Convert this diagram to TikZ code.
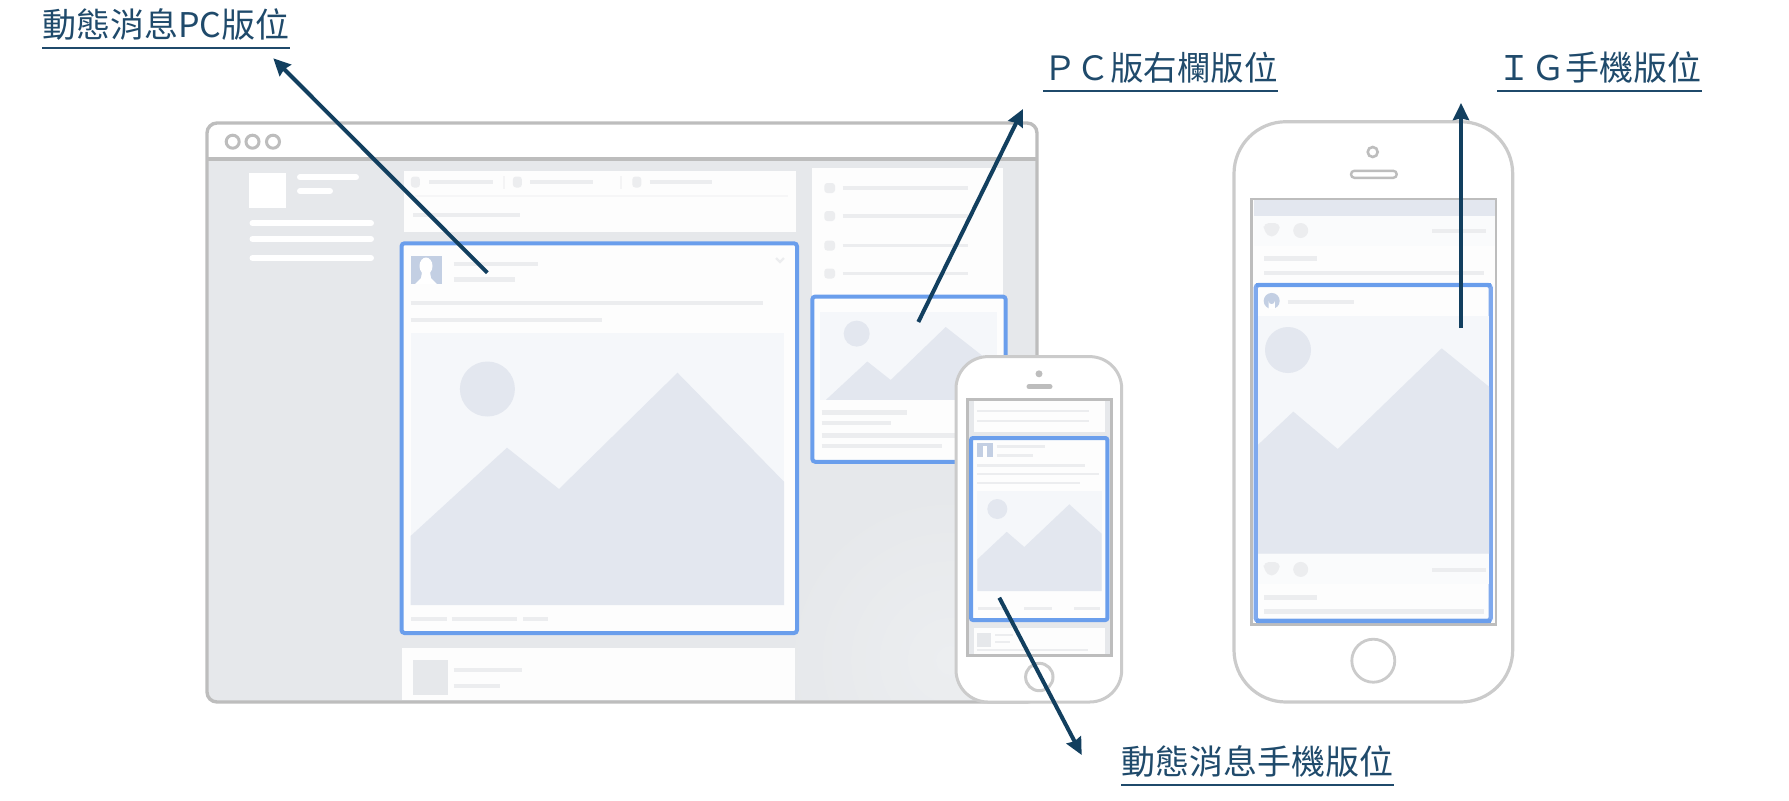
\documentclass[tikz,border=0pt]{standalone}
\usepackage{fontspec}
\usepackage{tikz}
\usetikzlibrary{arrows.meta}
\setmainfont{Noto Sans CJK TC}

\definecolor{framegray}{HTML}{BDBDBD}
\definecolor{phonegray}{HTML}{CBCBCB}
\definecolor{panelgray}{HTML}{E6E8EB}
\definecolor{panellight}{HTML}{ECEEF0}
\definecolor{cardwhite}{HTML}{FDFDFD}
\definecolor{linegray}{HTML}{ECEDEF}
\definecolor{skygray}{HTML}{F5F7FA}
\definecolor{mountgray}{HTML}{E3E7EF}
\definecolor{avatarblue}{HTML}{C3CFE3}
\definecolor{boxblue}{HTML}{6A9EEC}
\definecolor{sideblue}{HTML}{7FA9EE}
\definecolor{arrownavy}{HTML}{123F5F}
\definecolor{labelnavy}{HTML}{1F4A6B}

\tikzset{
  pill/.style={draw=linegray, line width=2.2pt},
  whitepill/.style={draw=white, line width=3pt, line cap=round},
  slotbox/.style={draw=boxblue, line width=2pt, fill=cardwhite, rounded corners=1.5pt},
  adlabel/.style={text=labelnavy, font=\fontsize{17pt}{17pt}\selectfont, inner xsep=0pt, inner ysep=0pt, text depth=5.2pt, anchor=south west},
  underlined/.style={draw=labelnavy, line width=1pt},
  pointer/.style={draw=arrownavy, line width=2pt, -{Stealth[length=8.5pt,width=8pt,inset=0.8pt]}},
}

\begin{document}
\begin{tikzpicture}
\begin{scope}[x=0.5pt,y=-0.5pt]
\useasboundingbox (0,0) rectangle (1789,800);

% browser window
\fill[panelgray,rounded corners=5pt] (207,123) rectangle (1037,702);
\begin{scope}
\clip (207,159) rectangle (1037,702);
\shade[inner color=panellight,outer color=panelgray] (950,660) ellipse (170 and 170);
\end{scope}
\fill[white] (207,159) [rounded corners=5pt] -- (207,123) -- (1037,123) [sharp corners] -- (1037,159) -- cycle;
\foreach \x in {232.7,252.5,273}
\draw[framegray,line width=1.5pt] (\x,141.7) circle (6.5);

% left column
\fill[white] (249.3,172.7) rectangle (285.7,207.7);
\foreach \xa\xb\y in {300/356/177.3,300/330/191,252.5/371/223.3,252.5/371/239,252.5/371/258}
\draw[whitepill] (\xa,\y) -- (\xb,\y);

% composer card
\fill[cardwhite] (403.5,170.7) rectangle (796,231.7);
\foreach \x in {415.4,517.4,636.8}
\fill[linegray,rounded corners=1.5pt] (\x-4.5,176.5) rectangle (\x+4.5,187.5);
\foreach \x in {504,621}
\draw[linegray!60,line width=0.6pt] (\x,176) -- (\x,189);
\draw[linegray!50,line width=0.8pt] (415,195.7) -- (788,195.7);
\foreach \xa\xb\y in {429/492.5/182,530/593/182,649.5/712/182,413.4/520/215}
\draw[pill] (\xa,\y) -- (\xb,\y);

% feed post
\draw[slotbox] (401.5,243.3) rectangle (797,633);
\fill[avatarblue] (410.6,255.7) rectangle (441.5,284);
\fill[white] (426,266) ellipse (6.5 and 8.5);
\fill[white] (422,272) -- (430,272) -- (431,278) -- (437,284) -- (415,284) -- (421,278) -- cycle;
\foreach \xa\xb\y in {453.7/538/264,453.7/515/279.3,410.6/763/302.7,410.6/602/320,411.4/447/619,451.8/517/619,523/547.8/619}
\draw[pill] (\xa,\y) -- (\xb,\y);
\draw[linegray,line width=1.2pt] (776,258) -- (780,262) -- (784,258);
\fill[skygray] (410.6,332.7) rectangle (784,605);
\fill[mountgray] (487.4,389) circle (27.5);
\fill[mountgray] (410.6,536) -- (507,447.7) -- (559,489) -- (677.5,372.7) -- (784,481.7) -- (784,605) -- (410.6,605) -- cycle;

% next card
\fill[cardwhite] (401.5,648) rectangle (795,700);
\fill[panelgray] (412.6,660) rectangle (448,695);
\foreach \xa\xb\y in {453.7/522/670,453.7/499.6/685.7}
\draw[pill] (\xa,\y) -- (\xb,\y);

% right column
\fill[cardwhite] (811.7,168) rectangle (1002.7,296);
\foreach \y in {188,216,245.6,273.5}
{
\fill[linegray,rounded corners=1.5pt] (824.3,\y-5) rectangle (835,\y+5);
\draw[pill,line width=1.8pt] (842.7,\y) -- (967.7,\y);
}
\draw[slotbox] (812.3,296.5) rectangle (1005.7,461.8);
\fill[skygray] (820,311.8) rectangle (996.7,399.8);
\fill[mountgray] (856.7,333.6) circle (13);
\fill[mountgray] (826,399.8) -- (867.3,361.5) -- (890.7,380) -- (945.7,327) -- (996.7,367) -- (996.7,399.8) -- cycle;
\foreach \xa\xb\y in {821.7/906.7/412.4,821.7/891/423,821.7/965/435.4,821.7/941.7/445.7}
\draw[pill] (\xa,\y) -- (\xb,\y);

\draw[framegray,line width=1.7pt,rounded corners=5pt] (207,123) rectangle (1037,702);
\draw[framegray,line width=2pt] (207,159) -- (1037,159);

% small phone
\draw[phonegray,line width=1.5pt,fill=white,rounded corners=16pt] (956,356.6) rectangle (1121.7,702);
\fill[framegray] (1039,373.8) circle (3.5);
\draw[framegray,line width=2.5pt,line cap=round] (1029,386.8) -- (1050,386.8);
\draw[framegray,line width=1.5pt,fill=panelgray] (967,399.8) rectangle (1111.7,655.4);
\fill[cardwhite] (974,401) rectangle (1105,432);
\foreach \y in {411,421}
\draw[pill,line width=1.2pt] (977.3,\y) -- (1089,\y);
\fill[cardwhite] (974,627.5) rectangle (1105,654);
\fill[panelgray] (977,633) rectangle (991,646.6);
\foreach \xa\xb\y in {995/1013/635,995/1010/641.7,977/1088/649.7}
\draw[pill,line width=1pt] (\xa,\y) -- (\xb,\y);
\draw[slotbox,rounded corners=1pt] (971,438) rectangle (1107.3,620);
\fill[avatarblue] (976.7,443) rectangle (993.3,457);
\fill[white] (983,446) rectangle (987,457);
\foreach \xa\xb\y in {996.7/1045/446.5,996.7/1033/455.3,977.3/1085/465.6,977.3/1099/474,977.3/1080/483,978/1005/608.4,1024/1052/608.4,1074/1100/608.4}
\draw[pill,line width=1.2pt] (\xa,\y) -- (\xb,\y);
\fill[skygray] (977,491) rectangle (1101.7,591);
\fill[mountgray] (997.3,509) circle (10);
\fill[mountgray] (977.3,559.4) -- (1006.7,531.8) -- (1024.3,547) -- (1069.3,504.3) -- (1101.7,533.7) -- (1101.7,591) -- (977.3,591) -- cycle;
\draw[phonegray,line width=1.5pt] (1039.3,677) circle (13.7);

% big phone
\draw[phonegray,line width=1.6pt,fill=white,rounded corners=26pt] (1234,121.7) rectangle (1512.7,702);
\draw[framegray,line width=1.3pt] (1372.7,152) circle (5);
\draw[framegray,line width=1.2pt,fill=white,rounded corners=1.7pt] (1351,170.8) rectangle (1396.7,177.8);
\draw[framegray,line width=1.3pt,fill=cardwhite] (1251.7,198.9) rectangle (1496,624.7);
\fill[mountgray] (1254,200) rectangle (1495,215.5);
\fill[cardwhite!60!skygray] (1254,215.5) rectangle (1495,245.5);
\foreach \xa\xb\y in {1432/1486/231,1264/1317/258.6,1264/1484/272.8}
\draw[pill] (\xa,\y) -- (\xb,\y);
\fill[linegray,rounded corners=2.5pt] (1263.7,223) -- (1279.7,223) -- (1279.7,231) -- (1271.7,238.5) -- (1263.7,231) -- cycle;
\fill[linegray] (1300.7,230.5) circle (7.5);
\draw[slotbox,draw=sideblue,rounded corners=1.5pt,line width=2.2pt] (1255.7,285) rectangle (1490.7,620.8);
\foreach \ya in {285,620.8}
\draw[boxblue,line width=2.2pt] (1255.7,\ya) -- (1490.7,\ya);
\fill[avatarblue] (1271.7,300.9) circle (8);
\fill[white] (1268.5,309) -- (1268.5,301) arc (180:0:3.2) -- (1274.9,309) -- cycle;
\draw[pill] (1287.7,301.7) -- (1354,301.7);
\fill[skygray] (1258,315.5) rectangle (1489,553.5);
\fill[mountgray] (1288,350) circle (23);
\fill[mountgray] (1258,444.8) -- (1293.3,411.6) -- (1337.7,449) -- (1441.7,348.3) -- (1489,386.7) -- (1489,553.5) -- (1258,553.5) -- cycle;
\fill[cardwhite!60!skygray] (1258,553.5) rectangle (1489,584.4);
\fill[linegray,rounded corners=2.5pt] (1263.7,562) -- (1279.7,562) -- (1279.7,570) -- (1271.7,577.5) -- (1263.7,570) -- cycle;
\fill[linegray] (1300.7,569.4) circle (7.5);
\foreach \xa\xb\y in {1432/1486/570,1264/1316.7/597.4,1264/1484/611.3}
\draw[pill] (\xa,\y) -- (\xb,\y);
\draw[phonegray,line width=1.4pt] (1373.3,660.7) circle (21.5);

% labels
\node[adlabel] (feedpc) at (42,48) {動態消息PC版位};
\node[adlabel,font=\fontsize{16.75pt}{16.75pt}\selectfont] (rightpc) at (1043,91) {ＰＣ版右欄版位};
\node[adlabel] (igphone) at (1497,91) {ＩＧ手機版位};
\node[adlabel] (feedphone) at (1121,785) {動態消息手機版位};
\draw[underlined] (feedpc.south west) -- (feedpc.south east);
\draw[underlined] (rightpc.south west) -- (rightpc.south east);
\draw[underlined] (igphone.south west) -- (igphone.south east);
\draw[underlined] (feedphone.south west) -- (feedphone.south east);

% pointers
\coordinate (feedpcstart) at (487.3,272.7);
\coordinate (feedpctip) at (273.3,58.3);
\coordinate (rightpcstart) at (918.3,322);
\coordinate (rightpctip) at (1023,109);
\coordinate (igstart) at (1461,328);
\coordinate (igtip) at (1461,103);
\coordinate (feedphonestart) at (999.3,597.7);
\coordinate (feedphonetip) at (1081.7,755);
\draw[pointer] (feedpcstart) -- (feedpctip);
\draw[pointer] (rightpcstart) -- (rightpctip);
\draw[pointer] (igstart) -- (igtip);
\draw[pointer] (feedphonestart) -- (feedphonetip);

\end{scope}
\end{tikzpicture}
\end{document}
